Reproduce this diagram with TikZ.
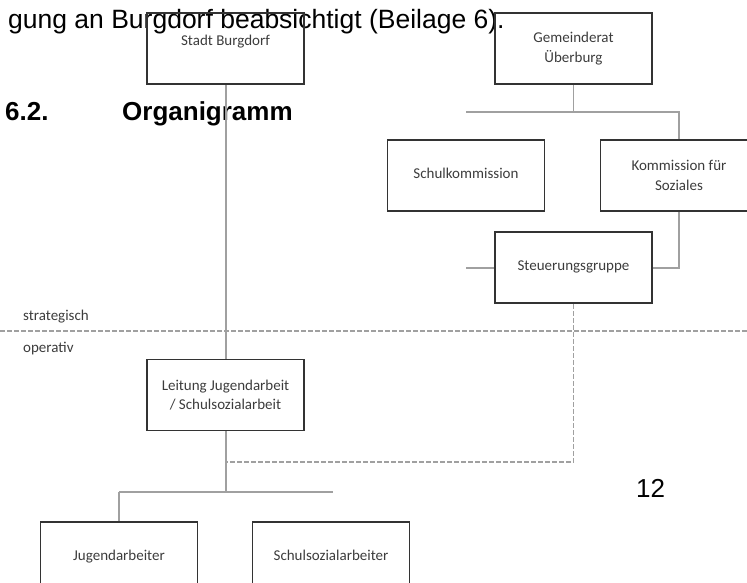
\documentclass[tikz,border=0pt]{standalone}
\usepackage{fontspec}
\usepackage{xcolor}
\usepackage{tikz}
\setmainfont{Liberation Sans}
\newfontfamily\boxfont{Carlito}
\definecolor{boxgray}{RGB}{51, 51, 51}
\definecolor{linegray}{RGB}{160, 160, 160}
\definecolor{textgray}{RGB}{60, 60, 60}
\usetikzlibrary{positioning, calc}

\begin{document}
\begin{tikzpicture}[
    x=1pt, y=-1pt,
    orgbox/.style={rectangle, draw=boxgray, line width=1.5pt, minimum width=157pt, minimum height=71pt, inner sep=0pt, align=center, font=\boxfont\fontsize{15}{19.5}\selectfont, text=textgray},
    oneline/.style={text height=10pt, text depth=3.5pt},
    boxtext/.style={font=\boxfont\fontsize{15}{19.5}\selectfont, text=textgray, inner sep=0pt},
    conn/.style={draw=linegray, line width=2pt},
    thinconn/.style={draw=linegray, line width=1.2pt},
    dashconn/.style={draw=linegray, line width=1.2pt, dash pattern=on 5pt off 2pt},
    bigtext/.style={font=\fontsize{26.5}{30}\selectfont, inner sep=0pt}
]
    \useasboundingbox (0,0) rectangle (747,582);
    \clip (0,0) rectangle (747,582);

    % Text of the page
    \node[bigtext, anchor=base west] (pagetext) at (8,28) {gung an Burgdorf beabsichtigt (Beilage 6).};
    \node[bigtext, font=\bfseries\fontsize{26}{30}\selectfont, anchor=base west] (secnum) at (5,120) {6.2.};
    \node[bigtext, font=\bfseries\fontsize{26}{30}\selectfont, anchor=base west] (sectitle) at (122,120) {Organigramm};
    \node[bigtext, font=\fontsize{26}{30}\selectfont, anchor=base west] (pagenum) at (636,497) {12};

    % Level line
    \coordinate (levelL) at (0,331);
    \coordinate (levelR) at (747,331);
    \draw[dashconn] (levelL) -- (levelR);
    \node[boxtext, anchor=west] (strat) at (23,317) {strategisch};
    \node[boxtext, anchor=west] (oper) at (23,349) {operativ};

    % Boxes
    \node[orgbox] (stadt) at (225.5,48.5) {};
    \node[boxtext] (stadtlabel) at (225.5,42) {Stadt Burgdorf};
    \node[orgbox] (gemeinde) at (573.5,48.5) {Gemeinderat\\Überburg};
    \node[orgbox, oneline] (schulk) at (466,175.5) {Schulkommission};
    \node[orgbox] (soziales) at (679,175.5) {Kommission für\\Soziales};
    \node[orgbox, oneline] (steuerung) at (573.5,267.5) {Steuerungsgruppe};
    \node[orgbox] (leitung) at (225.5,395) {Leitung Jugendarbeit\\/ Schulsozialarbeit};
    \node[orgbox, oneline] (jugend) at (119,557.5) {Jugendarbeiter};
    \node[orgbox, oneline] (schulsoz) at (331,557.5) {Schulsozialarbeiter};

    % Strategic connectors
    \coordinate (rowL) at (466,112);
    \coordinate (rowR) at (679,112);
    \coordinate (stubL) at (466,267.5);
    \draw[thinconn] (gemeinde.south) -- (gemeinde.south |- rowL);
    \draw[conn] (rowL) -- (rowR) -- (soziales.north);
    \draw[conn] (steuerung.east) -| (soziales.south);
    \draw[conn] (stubL) -- (steuerung.west);

    % Operative connectors
    \coordinate (dashend) at (225.5,462);
    \coordinate (teamL) at (119,492);
    \coordinate (teamR) at (333,492);
    \draw[dashconn] (steuerung.south) |- (dashend);
    \draw[conn] (stadt.south) -- (leitung.north);
    \draw[conn] (leitung.south) -- (leitung.south |- teamL);
    \draw[conn] (teamL) -- (teamR);
    \draw[conn] (teamL) -- (jugend.north);
\end{tikzpicture}
\end{document}
